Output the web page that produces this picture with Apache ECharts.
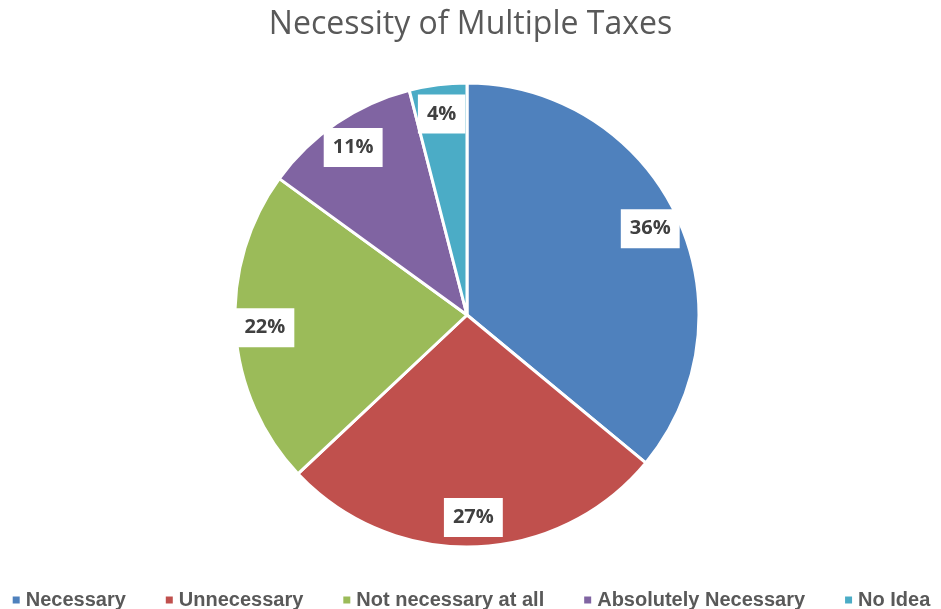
<!DOCTYPE html>
<html>
<head>
<meta charset="utf-8">
<script src="https://cdn.jsdelivr.net/npm/echarts@6/dist/echarts.min.js"></script>
<style>
html,body{margin:0;padding:0;background:#fff;}
#chart{width:941px;height:609px;}
</style>
</head>
<body>
<div id="chart"></div>
<script>
const categories = ['Necessary', 'Unnecessary', 'Not necessary at all', 'Absolutely Necessary', 'No Idea'];
const values = [36, 27, 22, 11, 4];
const colors = ['#4F81BD', '#C0504D', '#9BBB59', '#8064A2', '#4BACC6'];

const data = categories.map((name, i) => ({ name, value: values[i] }));
const R = 232;

const chart = echarts.init(document.getElementById('chart'));
chart.setOption({
  animation: false,
  color: colors,
  title: {
    text: 'Necessity of Multiple Taxes',
    left: 'center',
    top: 4,
    textStyle: { fontFamily: 'Open Sans', fontWeight: 'normal', fontSize: 32, color: '#595959' }
  },
  legend: {
    data: categories,
    bottom: -6,
    left: 'center',
    icon: 'rect',
    itemWidth: 9,
    itemHeight: 9,
    itemGap: 38,
    textStyle: { fontFamily: 'Liberation Sans', fontWeight: 'bold', fontSize: 20, color: '#595959' }
  },
  series: [
    {
      type: 'pie',
      center: [467, 315],
      radius: [0, R],
      startAngle: 90,
      clockwise: true,
      data: data,
      itemStyle: { borderColor: '#ffffff', borderWidth: 3 },
      label: { show: false },
      labelLine: { show: false },
      emphasis: { disabled: true }
    },
    {
      // transparent ring used only to place the percentage labels
      type: 'pie',
      center: [467, 315],
      radius: [R * 0.72, R],
      startAngle: 90,
      clockwise: true,
      silent: true,
      data: data,
      itemStyle: { color: 'rgba(0,0,0,0)', borderWidth: 0 },
      label: {
        show: true,
        position: 'inside',
        formatter: p => p.value + '%',
        backgroundColor: '#ffffff',
        padding: [10, 9, 9, 9],
        fontFamily: 'Open Sans',
        fontWeight: 'bold',
        fontSize: 20,
        color: '#404040'
      },
      labelLine: { show: false },
      emphasis: { disabled: true }
    }
  ]
});
</script>
</body>
</html>
